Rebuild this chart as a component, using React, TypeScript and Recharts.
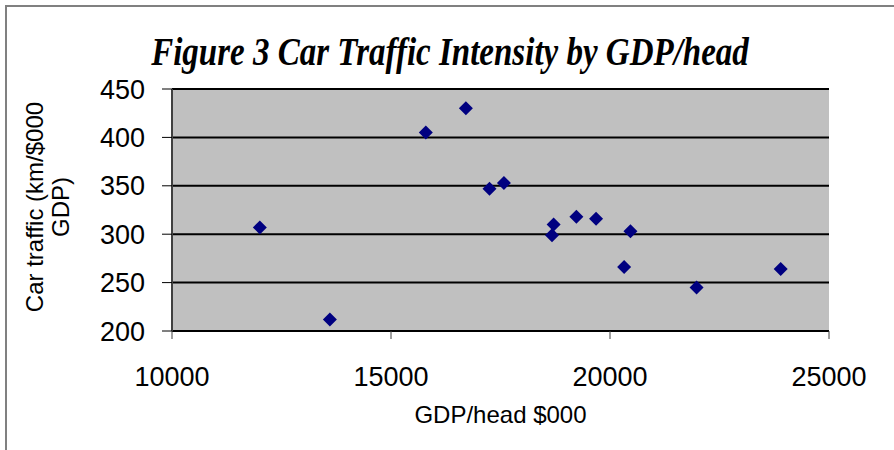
import React from 'react';
import { ScatterChart, Scatter, XAxis, YAxis, CartesianGrid, Label } from 'recharts';

const gdpPerHead = [12005, 13605, 15795, 16709, 17249, 17578, 18713, 18676, 19232, 19682, 20467, 20323, 21976, 23897];
const carTraffic = [307, 212, 405, 430, 347, 353, 310, 299, 318, 316, 303, 266, 245, 264];
const xTicks = [10000, 15000, 20000, 25000];
const yTicks = [200, 250, 300, 350, 400, 450];

const points = gdpPerHead.map((gdp, i) => ({ gdp, traffic: carTraffic[i] }));

const SANS = '"Liberation Sans", Arial, sans-serif';

const Diamond = (props: any) => {
    const { cx, cy } = props;
    const r = 7;
    return <path d={`M${cx},${cy - r}L${cx + r},${cy}L${cx},${cy + r}L${cx - r},${cy}Z`} fill="#000080" />;
};

const YTitle = () => (
    <g fontFamily={SANS} fontSize={24} fill="#000">
        <text x={43} y={207} textAnchor="middle" transform="rotate(-90, 43, 207)">Car traffic (km/$000</text>
        <text x={69} y={207} textAnchor="middle" transform="rotate(-90, 69, 207)">GDP)</text>
    </g>
);

export default function App() {
    return (
        <div style={{ position: 'absolute', left: 0, top: 0, width: 894, height: 450, background: '#fff', overflow: 'hidden' }}>
            <div style={{ position: 'absolute', left: 5, top: 5, width: 900, height: 460, borderLeft: '2px solid #808080', borderTop: '2px solid #808080' }} />
            <div
                style={{
                    position: 'absolute', left: 0, width: 900, top: 33, textAlign: 'center', lineHeight: '38px',
                    fontFamily: '"Liberation Serif", "Times New Roman", serif', fontWeight: 'bold', fontStyle: 'italic', fontSize: 33,
                    transform: 'scaleY(1.2)', transformOrigin: 'center',
                }}
            >
                Figure 3 Car Traffic Intensity by GDP/head
            </div>
            <div style={{ position: 'absolute', left: 0, top: 0 }}>
                <ScatterChart width={894} height={450} margin={{ top: 89, right: 65, bottom: 19, left: 0 }}>
                    <CartesianGrid horizontal vertical={false} stroke="#000" strokeWidth={2} fill="#c0c0c0" fillOpacity={1} />
                    <XAxis
                        type="number" dataKey="gdp" domain={[10000, 25000]} ticks={xTicks} interval={0}
                        height={100} tickSize={8} tickMargin={28}
                        axisLine={{ stroke: '#000', strokeWidth: 2 }} tickLine={{ stroke: '#404040' }}
                        tick={{ fill: '#000', fontSize: 27, fontFamily: SANS }}
                    >
                        <Label value="GDP/head $000" position="insideBottom" offset={8} style={{ fill: '#000', fontSize: 24, fontFamily: SANS }} />
                    </XAxis>
                    <XAxis xAxisId="top" orientation="top" type="number" domain={[10000, 25000]} height={0} tick={false} tickLine={false} axisLine={{ stroke: '#808080', strokeWidth: 2 }} />
                    <YAxis
                        type="number" dataKey="traffic" domain={[200, 450]} ticks={yTicks} interval={0}
                        width={172} tickSize={10} tickMargin={17}
                        axisLine={{ stroke: '#404040', strokeWidth: 2 }} tickLine={{ stroke: '#000' }}
                        tick={{ fill: '#000', fontSize: 27, fontFamily: SANS }}
                    >
                        <Label content={<YTitle />} />
                    </YAxis>
                    <YAxis yAxisId="right" orientation="right" type="number" domain={[200, 450]} width={0} tick={false} tickLine={false} axisLine={{ stroke: '#808080', strokeWidth: 2 }} />
                    <Scatter data={points} shape={<Diamond />} isAnimationActive={false} />
                </ScatterChart>
            </div>
        </div>
    );
}
